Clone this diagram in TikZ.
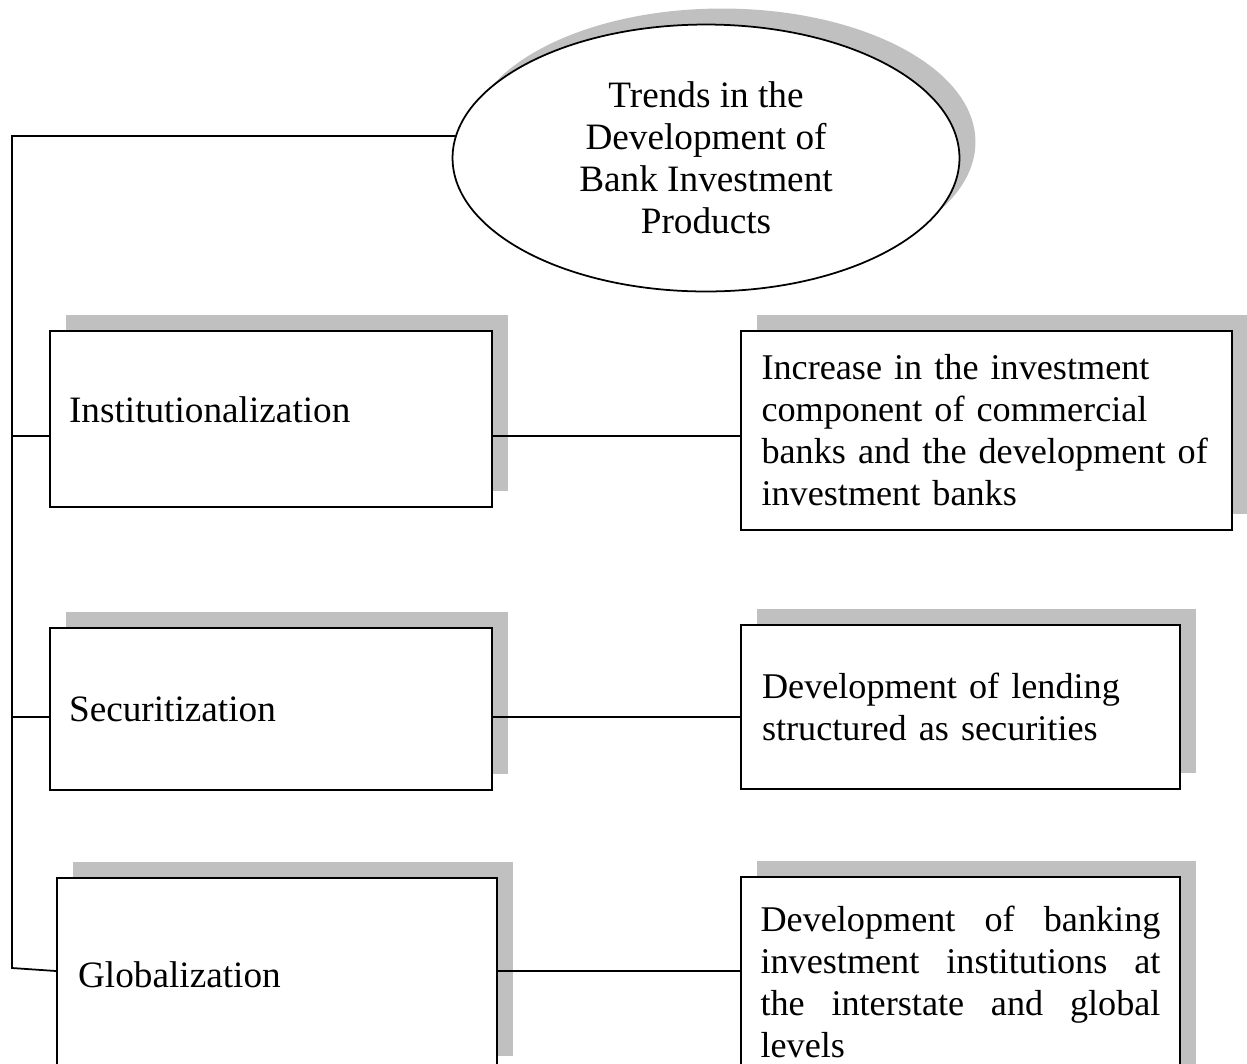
\documentclass[tikz,border=0pt]{standalone}
\usepackage{fontspec}
\setmainfont{Liberation Serif}
\usetikzlibrary{shapes.geometric,shadows}
\definecolor{shadowgray}{HTML}{C0C0C0}

\begin{document}
\begin{tikzpicture}[
    x=0.02cm, y=-0.02cm,
    font=\fontsize{21.2}{23.9}\selectfont,
    line width=1pt,
    % --- node styles ---
    boxshadow/.style = {drop shadow={shadow xshift=0.32cm, shadow yshift=0.32cm,
                        fill=shadowgray, opacity=1}},
    trendnode/.style = {ellipse, draw, fill=white, boxshadow, align=center,
                        minimum width=10.14cm, minimum height=5.34cm, inner sep=0pt},
    trendbox/.style  = {rectangle, draw, fill=white, boxshadow, align=left,
                        text width=8.08cm, inner xsep=0.38cm, inner ysep=0pt},
    resbox/.style    = {rectangle, draw, fill=white, boxshadow,
                        font=\fontsize{20.6}{23.9}\selectfont,
                        inner xsep=0.42cm, inner ysep=0pt},
    link/.style      = {draw, line width=1pt},
]

\clip (0,0) rectangle (1247,1063);

%============ CENTRAL TOPIC ============
\node (trend) [trendnode] at (706,158)
  {Trends in the\\Development of\\Bank Investment\\Products};

%============ TRENDS (left column) ============
\node (inst) [trendbox, minimum height=3.52cm, text depth=0.36cm] at (271,419)
  {Institutionalization};

\node (secur) [trendbox, minimum height=3.24cm] at (271,709)
  {Securitization};

\node (glob) [trendbox, text width=7.96cm, inner xsep=0.42cm,
              minimum height=3.88cm] at (277,975)
  {Globalization};

%============ RESULTS (right column) ============
\node (invest) [resbox, text width=9.0cm, inner xsep=0.41cm, align=left,
                minimum height=3.98cm] at (986.5,430.5)
  {Increase in the investment\\component of commercial\\banks and the development of\\investment banks};

\node (lending) [resbox, text width=7.94cm, align=left,
                 minimum height=3.28cm] at (960.5,707)
  {Development of lending\\structured as securities};

\node (levels) [resbox, text width=8.0cm, inner xsep=0.39cm, align=justify,
                minimum height=4.2cm] at (960.5,982)
  {Development of banking\linebreak investment institutions at\linebreak the interstate and global\linebreak levels};

%============ CONNECTORS ============
\coordinate (bus1) at (12,436);
\coordinate (bus2) at (12,717);
\coordinate (bus3) at (12,968);
\coordinate (row3) at (12,971);

% trunk from the topic down the left side
\draw[link] (trend.175) -| (bus3) -- (glob.west |- row3);

% branches into the trend boxes
\foreach \b/\n in {bus1/inst, bus2/secur}
  \draw[link] (\b) -- (\n.west |- \b);

% trend -> result
\draw[link] (inst.east |- bus1)  -- (invest.west |- bus1);
\draw[link] (secur.east |- bus2) -- (lending.west |- bus2);
\draw[link] (glob.east |- row3)  -- (levels.west |- row3);

\end{tikzpicture}
\end{document}
